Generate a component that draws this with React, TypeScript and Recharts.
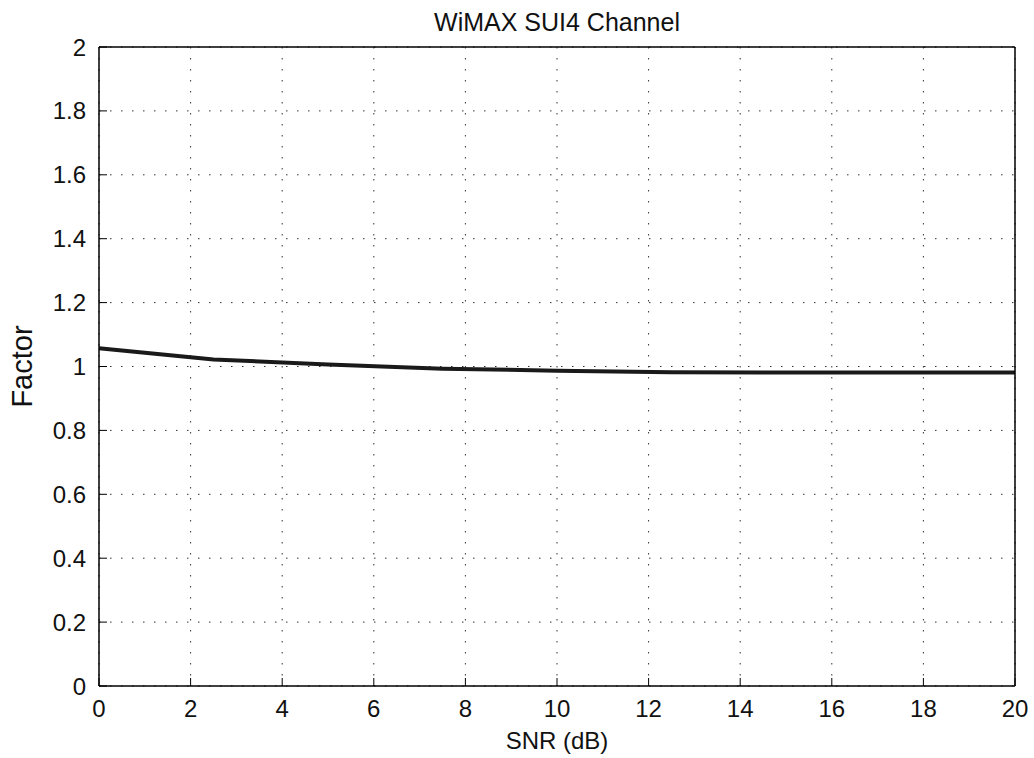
import { LineChart, Line, XAxis, YAxis, CartesianGrid } from 'recharts';

// SNR sample points (dB) and the factor
const snr = [0, 2.5, 5, 7.5, 10, 12.5, 15, 17.5, 20];
const factor = [1.057, 1.022, 1.006, 0.993, 0.987, 0.982, 0.981, 0.981, 0.981];

const xTicks = [0, 2, 4, 6, 8, 10, 12, 14, 16, 18, 20];
const yTicks = [0, 0.2, 0.4, 0.6, 0.8, 1, 1.2, 1.4, 1.6, 1.8, 2];

const data = snr.map((s, i) => ({ snr: s, factor: factor[i] }));

const font = '"Liberation Sans", Arial, Helvetica, sans-serif';
const tickStyle = { fill: '#111', fontSize: 24, fontFamily: font };
const axisLine = { stroke: '#000', strokeWidth: 1.5 };
const tickLine = { stroke: '#000', strokeWidth: 1 };

export default function App() {
    return (
        <div style={{ position: 'absolute', left: 0, top: 0, background: '#fff' }}>
            <LineChart width={1034} height={758} data={data} margin={{ top: 0, right: 0, bottom: 0, left: 0 }}>
                <CartesianGrid stroke="#333" strokeWidth={1} strokeDasharray="1.5 9.5" />
                <XAxis
                    dataKey="snr" type="number" domain={[0, 20]} ticks={xTicks} height={72}
                    tickSize={-8} tickMargin={22} tick={tickStyle} axisLine={axisLine} tickLine={tickLine}
                    label={{ value: 'SNR (dB)', position: 'insideBottom', offset: 9, fill: '#111', fontSize: 24, fontFamily: font }}
                />
                <XAxis
                    xAxisId="top" orientation="top" dataKey="snr" type="number" domain={[0, 20]} ticks={xTicks} height={47}
                    tickSize={-8} tick={false} axisLine={axisLine} tickLine={tickLine}
                    label={{ value: 'WiMAX SUI4 Channel', position: 'insideTop', offset: 13, fill: '#111', fontSize: 25, fontFamily: font }}
                />
                <YAxis
                    type="number" domain={[0, 2]} ticks={yTicks} width={99}
                    tickSize={-8} tickMargin={21} tick={tickStyle} axisLine={axisLine} tickLine={tickLine}
                    label={{ value: 'Factor', angle: -90, position: 'insideLeft', offset: 22, fill: '#111', fontSize: 29, fontFamily: font, style: { textAnchor: 'middle' } }}
                />
                <YAxis
                    yAxisId="right" orientation="right" type="number" domain={[0, 2]} ticks={yTicks} width={19}
                    tickSize={-8} tick={false} axisLine={axisLine} tickLine={tickLine}
                />
                <Line dataKey="factor" type="linear" stroke="#1a1a1a" strokeWidth={4} dot={false} isAnimationActive={false} />
            </LineChart>
        </div>
    );
}
